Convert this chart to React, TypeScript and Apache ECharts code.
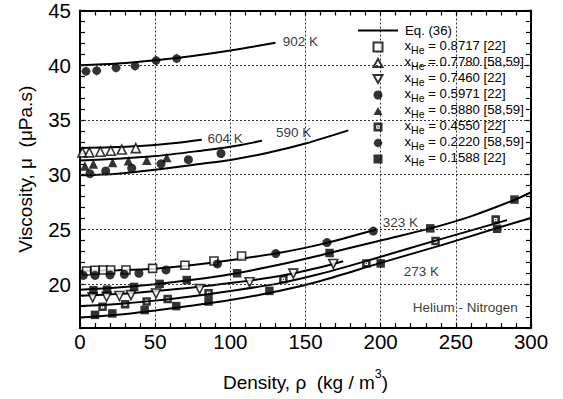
import React, { useEffect, useRef } from 'react';
import * as echarts from 'echarts';

// ---- axis ranges / ticks ----
const xMin = 0;
const xMax = 300;
const xStep = 50;
const yMin = 16;
const yMax = 45;
const yLabelStep = 5;
const yGridLevels = [20, 25, 30, 35, 40];

// ---- Eq. (36) curves: [density, viscosity] ----
const curve902K = [[0, 40.0], [25, 40.15], [50, 40.45], [75, 40.85], [100, 41.35], [130, 42.05]];
const curve604K = [[0, 32.45], [20, 32.5], [40, 32.62], [60, 32.85], [81, 33.2]];
const curve590Ka = [[0, 31.3], [25, 31.45], [50, 31.7], [81, 32.2], [100, 32.55], [121, 33.1]];
const curve590Kb = [[0, 29.95], [25, 30.1], [50, 30.45], [81, 31.0], [100, 31.35], [125, 32.0], [150, 32.85], [178.5, 34.05]];
const curve323K = [[0, 21.2], [25, 21.28], [50, 21.42], [75, 21.75], [100, 22.18], [133, 22.88], [160, 23.64], [197, 25.0]];
const curveMidA = [[0, 19.5], [25, 19.7], [50, 20.0], [75, 20.4], [100, 20.9], [133, 21.8], [160, 22.65], [200, 24.0], [233, 25.1], [260, 26.2], [289, 27.7], [300, 28.4]];
const curveMidB = [[0, 18.95], [25, 19.1], [50, 19.38], [75, 19.7], [100, 20.1], [133, 20.75], [160, 21.55], [175, 22.1]];
const curveMidC = [[0, 18.0], [25, 18.2], [50, 18.5], [75, 18.9], [100, 19.38], [133, 20.1], [160, 20.95], [190, 22.1], [237, 24.0], [284, 25.85]];
const curve273K = [[0, 16.95], [25, 17.2], [50, 17.6], [75, 18.05], [100, 18.55], [133, 19.4], [160, 20.3], [200, 21.95], [240, 23.55], [278, 25.15], [300, 26.05]];

// ---- measured points ----
const he8717 = [[4.4, 21.2], [10, 21.27], [15.5, 21.3], [20.4, 21.3], [30.6, 21.3], [48.3, 21.45], [69.8, 21.73], [89.1, 22.12], [107.5, 22.58]];
const he7780 = [[1.6, 32.04], [6.2, 32.04], [13.5, 32.1], [20.5, 32.19], [27.8, 32.3], [37.1, 32.43]];
const he7460 = [[8.4, 18.8], [17.7, 18.85], [26.2, 18.92], [33.9, 19.0], [50.6, 19.15], [79.6, 19.55], [112.8, 20.18], [141.9, 20.97], [168.5, 21.85]];
const he5971Low = [[2.2, 20.8], [10, 20.8], [20, 20.85], [29.5, 20.9], [39.2, 21.0], [57.2, 21.3], [91.4, 21.85], [130.2, 22.8], [164.3, 23.8], [195.1, 24.85]];
const he5971High = [[6.6, 30.1], [17.1, 30.35], [34.4, 30.6], [53.9, 31.0], [72.1, 31.37], [93.8, 31.94]];
const he5880 = [[3.3, 30.8], [8.9, 30.97], [21.7, 31.12], [32.2, 31.27], [44.4, 31.33], [57.7, 31.58]];
const he4550 = [[15, 17.94], [30, 18.18], [44.3, 18.42], [58.3, 18.64], [85.5, 19.18], [135.3, 20.45], [190.5, 21.9], [236.5, 23.94], [276.5, 25.9]];
const he2220 = [[4, 39.45], [11.1, 39.5], [24, 39.76], [36.6, 39.94], [50.6, 40.43], [64.3, 40.61]];
const he1588Upper = [[8.9, 19.45], [18, 19.5], [36, 19.75], [53, 20.03], [71, 20.38], [104.5, 21.0], [166, 22.85], [233, 25.1], [289, 27.73]];
const he1588Lower = [[10, 17.2], [21.5, 17.33], [43, 17.64], [64, 18.0], [85.5, 18.42], [126, 19.39], [200, 21.9], [277.5, 25.06]];

const eqName = 'Eq. (36)';
const legendNames = [
  'x_He = 0.8717 [22]',
  'x_He = 0.7780 [58,59]',
  'x_He = 0.7460 [22]',
  'x_He = 0.5971 [22]',
  'x_He = 0.5880 [58,59]',
  'x_He = 0.4550 [22]',
  'x_He = 0.2220 [58,59]',
  'x_He = 0.1588 [22]',
];

// ---- text annotations: [density, viscosity, text] ----
const annotations: [number, number, string][] = [
  [134.5, 42.15, '902 K'],
  [84.5, 33.3, '604 K'],
  [130, 33.85, '590 K'],
  [201, 25.6, '323 K'],
  [215, 21.15, '273 K'],
  [221, 17.85, 'Helium - Nitrogen'],
];

const FONT = "'Liberation Sans', Arial, Helvetica, sans-serif";
const crossSquare = 'path://M0,0H10V10H0Z M3,3V7H7V3Z M4.3,4.3H5.7V5.7H4.3Z';
const roundDiamond = 'path://M5,0L8.3,1.7L10,5L8.3,8.3L5,10L1.7,8.3L0,5L1.7,1.7Z';
const triDown = 'path://M0,0H10L5,9Z';
const triUp = 'path://M5,0L10,9H0Z';

const legendRich = {
  f: { fontSize: 13.2, lineHeight: 13, verticalAlign: 'top', fontFamily: FONT, color: '#000' },
  t: { fontSize: 13.2, lineHeight: 13, verticalAlign: 'top', fontFamily: FONT, color: '#000' },
  s: { fontSize: 10.5, lineHeight: 16, verticalAlign: 'bottom', fontFamily: FONT, color: '#000' },
};

export default function App() {
  const ref = useRef<HTMLDivElement>(null);

  useEffect(() => {
    if (!ref.current) return;
    const chart = echarts.init(ref.current, null, { renderer: 'svg' });

    const curves = [curve902K, curve604K, curve590Ka, curve590Kb, curve323K, curveMidA, curveMidB, curveMidC, curve273K];
    const lineSeries = curves.map((c) => ({
      name: eqName,
      type: 'line',
      data: c,
      smooth: 0.3,
      symbol: 'none',
      itemStyle: { color: '#000' },
      lineStyle: { color: '#000', width: 2 },
      z: 3,
      silent: true,
    }));

    const markerDefs = [
      { name: legendNames[0], data: he8717, symbol: 'rect', size: 8, open: true },
      { name: legendNames[1], data: he7780, symbol: triUp, size: 9, open: true },
      { name: legendNames[2], data: he7460, symbol: triDown, size: 9, open: true },
      { name: legendNames[3], data: he5971Low.concat(he5971High), symbol: 'circle', size: 9, open: false },
      { name: legendNames[4], data: he5880, symbol: triUp, size: 9.5, open: false },
      { name: legendNames[5], data: he4550, symbol: crossSquare, size: 8.5, open: false },
      { name: legendNames[6], data: he2220, symbol: roundDiamond, size: 9.5, open: false },
      { name: legendNames[7], data: he1588Upper.concat(he1588Lower), symbol: 'rect', size: 8.5, open: false },
    ];
    const scatterSeries = markerDefs.map((d) => ({
      name: d.name,
      type: 'scatter',
      data: d.data,
      symbol: d.symbol,
      symbolSize: d.size,
      itemStyle: d.open
        ? { color: '#fff', borderColor: '#000', borderWidth: 1.6 }
        : { color: '#000', borderWidth: 0 },
      z: 4,
      silent: true,
    }));

    const gridSeries = {
      name: 'grid',
      type: 'scatter',
      data: [],
      silent: true,
      markLine: {
        symbol: 'none',
        silent: true,
        label: { show: false },
        lineStyle: { color: '#333', width: 1, type: [2, 2] },
        data: yGridLevels.map((v) => ({ yAxis: v })),
      },
      z: 1,
    };

    const labelSeries = {
      name: 'labels',
      type: 'scatter',
      silent: true,
      symbol: 'circle',
      symbolSize: 1,
      itemStyle: { color: 'rgba(0,0,0,0)' },
      data: annotations.map((a) => ({ name: a[2], value: [a[0], a[1]] })),
      label: {
        show: true,
        position: 'right',
        distance: 0,
        formatter: (p: any) => p.name,
        fontSize: 13.5,
        color: '#000',
        fontFamily: FONT,
      },
      z: 5,
    };

    const tickStyle = { color: '#000', width: 1.2 };

    chart.setOption({
      animation: false,
      textStyle: { fontFamily: FONT, color: '#000' },
      grid: { left: 80, right: 32, top: 10, bottom: 71, containLabel: false },
      legend: [
        {
          data: [{ name: eqName, icon: 'rect', itemStyle: { color: '#000' } }],
          orient: 'vertical',
          left: 353,
          top: 19,
          itemWidth: 40,
          itemHeight: 2,
          selectedMode: false,
          formatter: () => '{f|' + eqName + '}',
          textStyle: { rich: { f: { ...legendRich.f, padding: [0, 0, 0, 2] } } },
        },
        {
          data: legendNames,
          orient: 'vertical',
          left: 367.5,
          top: 34,
          itemWidth: 9,
          itemHeight: 9,
          itemGap: 0,
          selectedMode: false,
          formatter: (name: string) => '{f|x}{s|He}{t|' + name.slice(4) + '}',
          textStyle: {
            rich: {
              f: { ...legendRich.f, padding: [0, 0, 0, 17] },
              t: legendRich.t,
              s: legendRich.s,
            },
          },
        },
      ],
      xAxis: [
        {
          type: 'value',
          min: xMin,
          max: xMax,
          interval: xStep,
          position: 'bottom',
          name: '{t|Density, ρ  (kg / m}{s|3}{t|)}',
          nameLocation: 'middle',
          nameGap: 39,
          nameTextStyle: {
            rich: {
              t: { fontSize: 19, lineHeight: 25, verticalAlign: 'bottom', fontFamily: FONT, color: '#000' },
              s: { fontSize: 12.5, lineHeight: 25, verticalAlign: 'top', fontFamily: FONT, color: '#000' },
            },
          },
          axisLine: { show: true, onZero: false, lineStyle: { color: '#000', width: 2 } },
          axisTick: { show: true, inside: true, length: 5, lineStyle: tickStyle },
          minorTick: { show: true, splitNumber: 5, length: 5, lineStyle: tickStyle },
          axisLabel: { fontSize: 20.5, color: '#000', margin: 3, fontFamily: FONT },
          splitLine: { show: true, lineStyle: { color: '#333', width: 1, type: [2, 2] } },
        },
        {
          type: 'value',
          min: xMin,
          max: xMax,
          interval: xStep,
          position: 'top',
          axisLine: { show: true, onZero: false, lineStyle: { color: '#000', width: 2 } },
          axisTick: { show: true, inside: true, length: 5, lineStyle: tickStyle },
          minorTick: { show: true, splitNumber: 5, length: 5, lineStyle: tickStyle },
          axisLabel: { show: false },
          splitLine: { show: false },
        },
      ],
      yAxis: [
        {
          type: 'value',
          min: yMin,
          max: yMax,
          interval: 1,
          position: 'left',
          name: 'Viscosity, μ  (μPa.s)',
          nameLocation: 'middle',
          nameRotate: 90,
          nameGap: 45,
          nameTextStyle: { fontSize: 19, color: '#000', fontFamily: FONT },
          axisLine: { show: true, onZero: false, lineStyle: { color: '#000', width: 2 } },
          axisTick: { show: true, inside: true, length: 5, lineStyle: tickStyle },
          axisLabel: {
            fontSize: 20.5,
            color: '#000',
            margin: 9,
            fontFamily: FONT,
            formatter: (v: number) => (v % yLabelStep === 0 ? String(v) : ''),
          },
          splitLine: { show: false },
        },
        {
          type: 'value',
          min: yMin,
          max: yMax,
          interval: 1,
          position: 'right',
          axisLine: { show: true, onZero: false, lineStyle: { color: '#000', width: 2 } },
          axisTick: { show: true, inside: true, length: 5, lineStyle: tickStyle },
          axisLabel: { show: false },
          splitLine: { show: false },
        },
      ],
      series: [gridSeries, ...lineSeries, ...scatterSeries, labelSeries],
    });

    return () => chart.dispose();
  }, []);

  return (
    <div
      ref={ref}
      style={{ position: 'fixed', left: 0, top: 0, width: 563, height: 399, background: '#fff' }}
    />
  );
}
